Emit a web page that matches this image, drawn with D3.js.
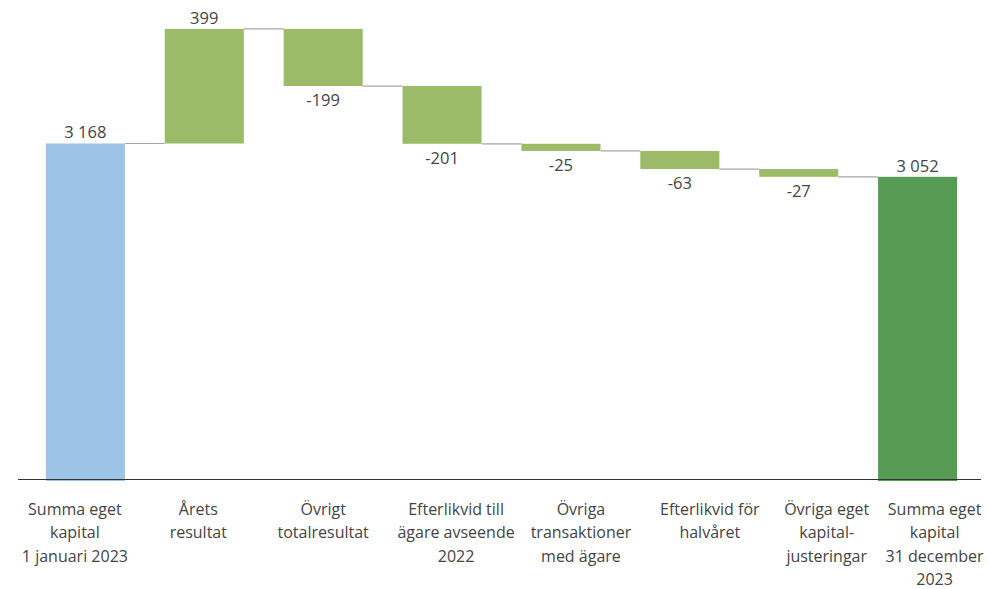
<!DOCTYPE html>
<html>
<head>
<meta charset="utf-8">
<script src="https://cdn.jsdelivr.net/npm/d3@7"></script>
<style>
  html, body { margin: 0; padding: 0; background: #fff; }
  svg { display: block; font-family: "Open Sans", "Noto Sans", sans-serif; }
</style>
</head>
<body>
<svg id="chart" width="989" height="589"></svg>
<script>
// Equity bridge: opening balance, changes during the year, closing balance
const categories = [
  ["Summa eget", "kapital", "1 januari 2023"],
  ["Årets", "resultat"],
  ["Övrigt", "totalresultat"],
  ["Efterlikvid till", "ägare avseende", "2022"],
  ["Övriga", "transaktioner", "med ägare"],
  ["Efterlikvid för", "halvåret"],
  ["Övriga eget", "kapital-", "justeringar"],
  ["Summa eget", "kapital", "31 december", "2023"]
];
const values = [3168, 399, -199, -201, -25, -63, -27, 3052];
const kinds = ["start", "delta", "delta", "delta", "delta", "delta", "delta", "end"];
const valueLabels = ["3 168", "399", "-199", "-201", "-25", "-63", "-27", "3 052"];
const yDomain = [2000, 3600];

const colors = { start: "#9dc3e6", delta: "#9bbb69", end: "#589b54" };

const svg = d3.select("#chart");
const baseY = 479;

const x = d3.scaleBand()
  .domain(d3.range(values.length))
  .range([26, 977])
  .paddingInner(0.335)
  .paddingOuter(0.167);

const y = d3.scaleLinear().domain(yDomain).range([baseY, 19.4]);

// running totals to place each floating bar
let running = 0;
const bars = values.map((v, i) => {
  let lo, hi, endLevel;
  if (kinds[i] === "start" || kinds[i] === "end") {
    lo = yDomain[0]; hi = v; endLevel = v; running = v;
  } else {
    const prev = running;
    running = prev + v;
    lo = Math.min(prev, running); hi = Math.max(prev, running); endLevel = running;
  }
  return { i, v, lo, hi, endLevel, kind: kinds[i] };
});

// connectors between consecutive bars
svg.append("g").selectAll("line")
  .data(bars.slice(0, -1))
  .join("line")
  .attr("x1", d => x(d.i) + x.bandwidth())
  .attr("x2", d => x(d.i + 1))
  .attr("y1", d => y(d.endLevel))
  .attr("y2", d => y(d.endLevel))
  .attr("stroke", "#a6a6a6")
  .attr("stroke-width", 1.2);

// bars
svg.append("g").selectAll("rect")
  .data(bars)
  .join("rect")
  .attr("x", d => x(d.i))
  .attr("width", x.bandwidth())
  .attr("y", d => y(d.hi))
  .attr("height", d => (d.kind === "delta" ? y(d.lo) - y(d.hi) : y(d.lo) - y(d.hi) + 2))
  .attr("fill", d => colors[d.kind]);

// baseline
svg.append("line")
  .attr("x1", 18).attr("x2", 981)
  .attr("y1", baseY + 0.5).attr("y2", baseY + 0.5)
  .attr("stroke", "#333").attr("stroke-width", 1.2);

// value labels: above for increases and totals, below for decreases
svg.append("g").selectAll("text")
  .data(bars)
  .join("text")
  .attr("x", d => x(d.i) + x.bandwidth() / 2)
  .attr("y", d => d.v < 0 ? y(d.lo) + 20 : y(d.hi) - 5)
  .attr("text-anchor", "middle")
  .attr("font-size", 16.5)
  .attr("fill", "#444")
  .text((d, i) => valueLabels[i]);

// category labels, nudged sideways so the wrapped blocks spread across the width
const labelNudge = [-10.5, -6, 0, 14, 20, 30, 28, 17];
const catG = svg.append("g");
categories.forEach((lines, i) => {
  const cx = x(i) + x.bandwidth() / 2 + labelNudge[i];
  const t = catG.append("text")
    .attr("x", cx)
    .attr("y", 515)
    .attr("text-anchor", "middle")
    .attr("font-size", 16)
    .attr("fill", "#444");
  lines.forEach((ln, k) => {
    t.append("tspan")
      .attr("x", cx)
      .attr("dy", k === 0 ? 0 : 23.4)
      .text(ln);
  });
});
</script>
</body>
</html>
